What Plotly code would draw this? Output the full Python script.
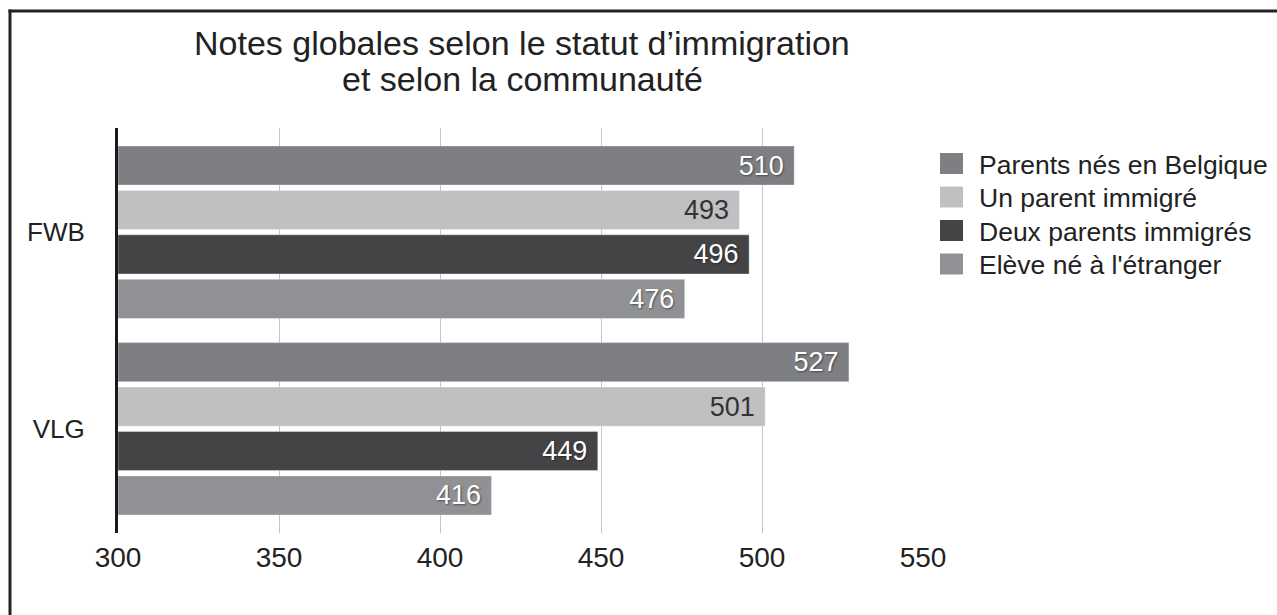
import plotly.graph_objects as go

# Scores by community and by immigration status
communautes = ["FWB", "VLG"]
statuts = [
    "Parents nés en Belgique",
    "Un parent immigré",
    "Deux parents immigrés",
    "Elève né à l'étranger",
]
parents_belgique = [510, 527]
un_parent = [493, 501]
deux_parents = [496, 449]
ne_etranger = [476, 416]
x_ticks = [300, 350, 400, 450, 500, 550]

series = [parents_belgique, un_parent, deux_parents, ne_etranger]
couleurs = ["#7e7f83", "#c0c0c2", "#444446", "#909194"]
couleurs_texte = ["white", "#333333", "white", "white"]

FONT = "Liberation Sans, Arial, Helvetica, sans-serif"
W, H = 1277, 615
L, R, T, B = 118, 923, 128, 533


def px(x):
    return (x - L) / (R - L)


def py(y):
    return (B - y) / (B - T)


fig = go.Figure()
for nom, vals, coul, ct in zip(statuts, series, couleurs, couleurs_texte):
    fig.add_trace(go.Bar(
        name=nom,
        y=communautes,
        x=[v - 300 for v in vals],
        base=300,
        orientation="h",
        marker=dict(color=coul, line=dict(color="rgba(255,255,255,0.35)", width=1)),
        text=[str(v) + "\u00a0" for v in vals],
        texttemplate="%{text}",
        textposition="inside",
        insidetextanchor="end",
        textangle=0,
        constraintext="none",
        textfont=dict(
            family=FONT, size=27, color=ct,
            shadow="1px 1px 2px rgba(0,0,0,0.45)" if ct == "white" else "none",
        ),
        showlegend=False,
        hoverinfo="skip",
    ))

# Legend drawn as squares and labels at the right of the plot
leg_y = [163.5, 197, 230.5, 264]
for yc, coul, nom in zip(leg_y, couleurs, statuts):
    fig.add_shape(
        type="rect", xref="paper", yref="paper",
        x0=px(940), x1=px(963), y0=py(yc - 10.5), y1=py(yc + 10.5),
        fillcolor=coul, line=dict(width=0),
    )
    fig.add_annotation(
        xref="paper", yref="paper", x=px(977), y=py(yc + 1),
        text=nom, showarrow=False, xanchor="left", yanchor="middle",
        font=dict(family=FONT, size=26.5, color="#222222"),
    )

# Two-line title
for txt, yc in [("Notes globales selon le statut d’immigration", 43),
                ("et selon la communauté", 79)]:
    fig.add_annotation(
        xref="paper", yref="paper", x=px(522), y=py(yc),
        text=txt, showarrow=False, xanchor="center", yanchor="middle",
        font=dict(family=FONT, size=34, color="#222222"),
    )

# Outer frame: left and top edges as thin filled strips
for x0, y0, x1, y1 in [(8.5, 9.5, 11.5, 615), (8.5, 9.5, 1277, 12.5)]:
    fig.add_shape(
        type="rect", xref="paper", yref="paper",
        x0=px(x0), y0=py(y0), x1=px(x1), y1=py(y1),
        fillcolor="#222222", line=dict(width=0), layer="above",
    )

fig.update_layout(
    width=W, height=H,
    margin=dict(l=L, r=W - R, t=T, b=H - B, pad=0),
    paper_bgcolor="white", plot_bgcolor="white",
    barmode="group", bargap=0.096, bargroupgap=0.12,
    font=dict(family=FONT, color="#222222"),
    xaxis=dict(
        range=[300, 550], tickvals=x_ticks, ticktext=[str(t) for t in x_ticks],
        showgrid=True, gridcolor="#c4c4c4", gridwidth=1,
        zeroline=False, showline=False, ticks="",
        tickfont=dict(family=FONT, size=28, color="#222222"),
        ticklabelstandoff=5,
    ),
    yaxis=dict(
        type="category", categoryorder="array", categoryarray=communautes,
        range=[1.53, -0.53],
        showgrid=False, zeroline=False,
        showline=True, linecolor="#1a1a1a", linewidth=3,
        ticks="", ticklabelstandoff=25,
        tickfont=dict(family=FONT, size=26, color="#222222"),
    ),
)

fig.write_html("out.html", config={"displayModeBar": False})
